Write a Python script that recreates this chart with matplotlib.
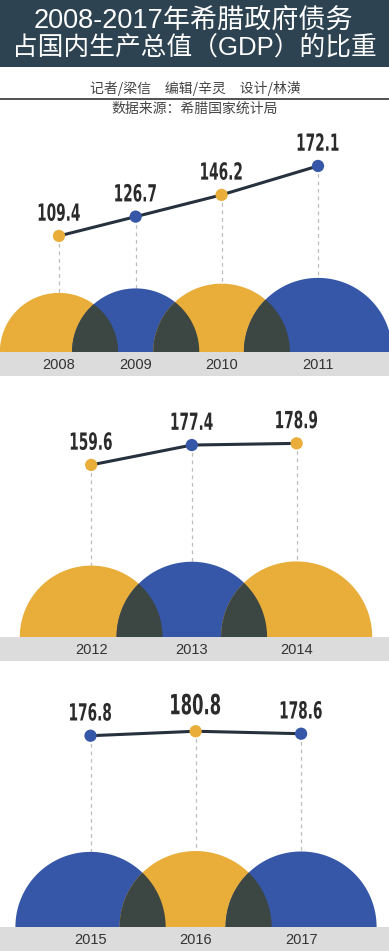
import numpy as np
import matplotlib
matplotlib.use("Agg")
import matplotlib.pyplot as plt
from matplotlib.patches import Polygon, Rectangle
from matplotlib.patheffects import AbstractPathEffect
from matplotlib.transforms import Affine2D

# ---------------- data ----------------
years = [2008, 2009, 2010, 2011, 2012, 2013, 2014, 2015, 2016, 2017]
debt_ratio = [109.4, 126.7, 146.2, 172.1, 159.6, 177.4, 178.9, 176.8, 180.8, 178.6]
panel_years = [[2008, 2009, 2010, 2011], [2012, 2013, 2014], [2015, 2016, 2017]]
title_lines = ["2008-2017年希腊政府债务", "占国内生产总值（GDP）的比重"]
credits = "记者/梁信　编辑/辛灵　设计/林潢"
source = "数据来源：希腊国家统计局"

# ---------------- style / layout ----------------
GOLD = "#E9AD3A"
BLUE = "#3657A7"
DARK = "#3C4643"
LINE = "#26313D"
BAND = "#DCDCDC"
HEAD = "#2E4352"
DASH = "#BDBDBD"
panel_colors = [[GOLD, BLUE, GOLD, BLUE], [GOLD, BLUE, GOLD], [BLUE, GOLD, BLUE]]
panel_layout = [(125, 352, 376), (390, 637, 661), (675, 927, 951)]  # top, baseline, band bottom (px)
W, H, DPI = 389, 951, 100
PX_PER_UNIT = 1.116
BASE_V = 5.4
R_K = 5.65
OVERLAP = 46
CX = 196
CJK = ["Noto Sans CJK SC", "DejaVu Sans"]
TITLE_FONT = ["Liberation Sans", "Noto Sans CJK SC", "DejaVu Sans"]

plt.rcParams["font.family"] = CJK


class Squeeze(AbstractPathEffect):
    """Horizontally condense text glyphs around their own centre."""

    def __init__(self, sx):
        super().__init__()
        self.sx = sx

    def draw_path(self, renderer, gc, tpath, affine, rgbFace=None):
        v = tpath.vertices
        cx = (v[:, 0].min() + v[:, 0].max()) / 2 if len(v) else 0.0
        aff = Affine2D().translate(-cx, 0).scale(self.sx, 1).translate(cx, 0) + affine
        renderer.draw_path(gc, tpath, aff, rgbFace)


fig = plt.figure(figsize=(W / DPI, H / DPI), dpi=DPI)
fig.patch.set_facecolor("white")


def fy(px):
    return 1 - px / H


# header
fig.add_artist(Rectangle((0, fy(67)), 1, 67 / H, transform=fig.transFigure,
                         facecolor=HEAD, edgecolor="none"))
fig.text(0.497, fy(21), title_lines[0], ha="center", va="center", color="white",
         fontsize=19.5, family=TITLE_FONT)
fig.text(0.5, fy(47), title_lines[1], ha="center", va="center", color="white",
         fontsize=18.5, family=TITLE_FONT)
fig.text(0.503, fy(88), credits, ha="center", va="center", color="#444444",
         fontsize=10, family=CJK)
fig.add_artist(plt.Line2D([0, 1], [fy(99), fy(99)], transform=fig.transFigure,
                          color="#333333", lw=1.2))
fig.text(0.5, fy(108.5), source, ha="center", va="center", color="#444444",
         fontsize=10, family=CJK)

vmax = max(debt_ratio)
lookup = dict(zip(years, debt_ratio))

for p, (yrs, (top, base, bot)) in enumerate(zip(panel_years, panel_layout)):
    vals = [lookup[y] for y in yrs]
    cols = panel_colors[p]
    radii = [R_K * np.sqrt(v) for v in vals]
    extent = 2 * sum(radii) - OVERLAP * (len(radii) - 1)
    left = CX - extent / 2
    xs = []
    cur = left + radii[0]
    for i, r in enumerate(radii):
        if i > 0:
            cur = cur + radii[i - 1] + r - OVERLAP
        xs.append(cur)

    # grey band
    fig.add_artist(Rectangle((0, fy(bot)), 1, (bot - base) / H, transform=fig.transFigure,
                             facecolor=BAND, edgecolor="none", zorder=0))

    ax = fig.add_axes([0, fy(base), 1, (base - top) / H])
    ax.set_xlim(0, W)
    ax.set_ylim(BASE_V, BASE_V + (base - top) / PX_PER_UNIT)
    ax.axis("off")

    t = np.linspace(0, np.pi, 300)
    shapes = []
    polys = []
    for x, r, c in zip(xs, radii, cols):
        pts = np.column_stack([x + r * np.cos(t), BASE_V + (r / PX_PER_UNIT) * np.sin(t)])
        poly = Polygon(pts, closed=True, facecolor=c, edgecolor="none", zorder=1)
        ax.add_patch(poly)
        shapes.append(pts)
        polys.append(poly)
    for i in range(len(shapes) - 1):
        ov = Polygon(shapes[i + 1], closed=True, facecolor=DARK, edgecolor="none", zorder=2)
        ax.add_patch(ov)
        ov.set_clip_path(polys[i])

    for x, v in zip(xs, vals):
        ax.plot([x, x], [v, BASE_V], ls=(0, (3, 3)), color=DASH, lw=0.9, zorder=0.5)

    ax.plot(xs, vals, color=LINE, lw=2.2, zorder=4, solid_capstyle="round")
    ax.scatter(xs, vals, s=78, c=cols, edgecolors="none", zorder=5)

    for x, v, y in zip(xs, vals, yrs):
        big = v == vmax
        ax.annotate(f"{v:.1f}", (x, v), xytext=(0, 18 if big else 16),
                    textcoords="offset points", ha="center", va="center",
                    family="DejaVu Sans", fontweight="bold",
                    fontsize=20 if big else 17, color="#2B2B2B", zorder=6,
                    path_effects=[Squeeze(0.59 if big else 0.58)])
        ax.annotate(str(y), (x, BASE_V), xytext=(0, -9.5),
                    textcoords="offset points", ha="center", va="center",
                    family="Liberation Sans", fontsize=10.5, color="#333333",
                    annotation_clip=False, zorder=6)

fig.savefig("out.png", dpi=DPI, facecolor="white")
